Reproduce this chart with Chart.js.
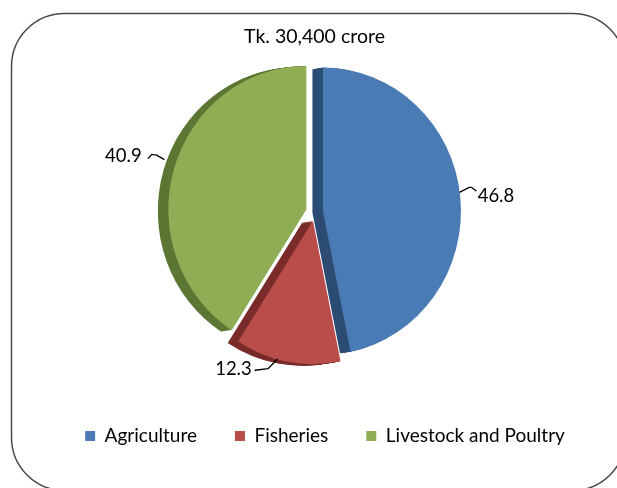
<!DOCTYPE html>
<html>
<head>
<meta charset="utf-8">
<script src="https://cdn.jsdelivr.net/npm/chart.js@4.4.1/dist/chart.umd.min.js"></script>
<style>
  html, body { margin: 0; padding: 0; background: #ffffff; }
  #c { display: block; }
</style>
</head>
<body>
<canvas id="c" width="617" height="488"></canvas>
<script>
// ---- data ----
const categories = ['Agriculture', 'Fisheries', 'Livestock and Poultry'];
const shares = [46.8, 12.3, 40.9];
const valueLabels = ['46.8', '12.3', '40.9'];
const titleText = 'Tk. 30,400 crore';

// ---- styles ----
const faceColors = ['#4A7BB5', '#B84D4A', '#8FAD55'];
const sideColors = ['#2C4C74', '#7A2C2A', '#5C7633'];
const EXPLODE = 8.5;       // px outward shift of every slice
const DEPTH = [-10.5, 1.5]; // extrusion vector for the 3D side
const DEPTH_STEPS = 12;
const SCALE_Y = 1.04;      // slight vertical stretch of the pie
const TEXT_FONT = 'Lato, "Open Sans", sans-serif';

// leader line + label placement, relative to each slice's outer mid point
const labelStyle = [
  { pts: [[-0.3, -4.6], [9, -9.3], [11.4, -9.3], [15.7, -5.9]], text: [17.4, -0.8], align: 'left' },
  { pts: [[-10.2, -2.5], [-19.2, 6.8], [-32.5, 8.5]], text: [-35.8, 7.5], align: 'right' },
  { pts: [[-10, -9.6], [-17.3, -13.9], [-22.3, -14.6], [-25.7, -10.6]], text: [-32.3, -12.6], align: 'right' }
];

function sliceGeom(arc) {
  const mid = (arc.startAngle + arc.endAngle) / 2;
  return { mid, ex: Math.cos(mid) * EXPLODE, ey: Math.sin(mid) * EXPLODE };
}

const framePlugin = {
  id: 'frame',
  beforeDraw(chart) {
    const ctx = chart.ctx;
    ctx.save();
    ctx.fillStyle = '#ffffff';
    ctx.fillRect(0, 0, chart.width, chart.height);
    ctx.beginPath();
    ctx.roundRect(11.5, 13.5, 614, 477, 53);
    ctx.strokeStyle = '#4a4a4a';
    ctx.lineWidth = 1.5;
    ctx.stroke();
    ctx.restore();
  },
  afterDraw(chart) {
    const ctx = chart.ctx;
    const ca = chart.chartArea;
    ctx.save();
    ctx.fillStyle = '#000000';
    ctx.font = '19.5px ' + TEXT_FONT;
    ctx.textAlign = 'center';
    ctx.textBaseline = 'middle';
    ctx.fillText(titleText, (ca.left + ca.right) / 2, 36.5);
    ctx.restore();
  }
};

const pie3dPlugin = {
  id: 'pie3d',
  beforeDatasetDraw(chart, args) {
    const meta = args.meta;
    const ctx = chart.ctx;
    const arcs = meta.data;
    if (!arcs.length) return false;
    const cx = arcs[0].x, cy = arcs[0].y;
    ctx.save();
    ctx.translate(cx, cy);
    ctx.scale(1, SCALE_Y);
    ctx.translate(-cx, -cy);
    // sides (extrusion)
    arcs.forEach((arc, i) => {
      const g = sliceGeom(arc);
      const saved = arc.options;
      arc.options = Object.assign({}, saved, {
        backgroundColor: sideColors[i], borderColor: sideColors[i], borderWidth: 0
      });
      for (let s = DEPTH_STEPS; s >= 1; s--) {
        const t = s / DEPTH_STEPS;
        ctx.save();
        ctx.translate(g.ex + DEPTH[0] * t, g.ey + DEPTH[1] * t);
        arc.draw(ctx);
        ctx.restore();
      }
      arc.options = saved;
    });
    // faces
    arcs.forEach((arc) => {
      const g = sliceGeom(arc);
      ctx.save();
      ctx.translate(g.ex, g.ey);
      arc.draw(ctx);
      ctx.restore();
    });
    ctx.restore();
    return false;
  },
  afterDatasetsDraw(chart) {
    const meta = chart.getDatasetMeta(0);
    const ctx = chart.ctx;
    ctx.save();
    ctx.font = '18.5px ' + TEXT_FONT;
    ctx.fillStyle = '#000000';
    ctx.strokeStyle = '#000000';
    ctx.lineWidth = 1.3;
    ctx.lineJoin = 'round';
    ctx.lineCap = 'round';
    ctx.textBaseline = 'middle';
    meta.data.forEach((arc, i) => {
      const g = sliceGeom(arc);
      const r = arc.outerRadius;
      const ax = arc.x + g.ex + Math.cos(g.mid) * r;
      const ay = arc.y + (g.ey + Math.sin(g.mid) * r) * SCALE_Y;
      const st = labelStyle[i];
      ctx.beginPath();
      st.pts.forEach((p, k) => {
        if (k === 0) ctx.moveTo(ax + p[0], ay + p[1]);
        else ctx.lineTo(ax + p[0], ay + p[1]);
      });
      ctx.stroke();
      ctx.textAlign = st.align;
      ctx.fillText(valueLabels[i], ax + st.text[0], ay + st.text[1]);
    });
    ctx.restore();
  }
};

new Chart(document.getElementById('c'), {
  type: 'pie',
  data: {
    labels: categories,
    datasets: [{
      data: shares,
      backgroundColor: faceColors,
      borderWidth: 0,
      offset: 0,
      radius: 138
    }]
  },
  options: {
    responsive: false,
    animation: false,
    devicePixelRatio: 1,
    layout: { padding: { left: 33, right: 0, top: 35.5, bottom: 32.5 } },
    plugins: {
      title: { display: false },
      subtitle: {
        display: true, position: 'right', text: ' ',
        font: { size: 1, lineHeight: 1 }, padding: { top: 10, bottom: 10 }
      },
      legend: {
        position: 'bottom',
        labels: {
          boxWidth: 10, boxHeight: 10, padding: 38,
          color: '#000000',
          font: { family: TEXT_FONT, size: 19 }
        }
      },
      tooltip: { enabled: false }
    }
  },
  plugins: [framePlugin, pie3dPlugin]
});
</script>
</body>
</html>
